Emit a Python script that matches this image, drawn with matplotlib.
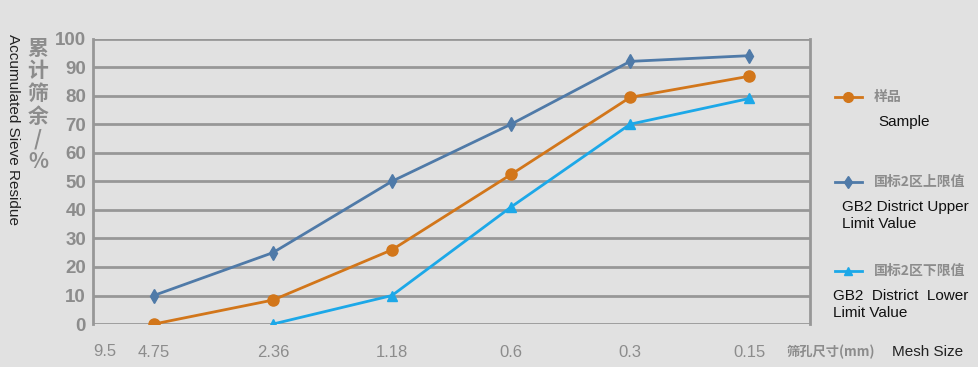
#!/usr/bin/env python3

import numpy as np
import matplotlib
matplotlib.use('Agg')
import matplotlib.pyplot as plt

# mesh sizes (mm) and accumulated sieve residue (%)
mesh = ['4.75', '2.36', '1.18', '0.6', '0.3', '0.15']
sample = [0, 8.4, 26, 52.4, 79.4, 86.8]
upper = [10, 25, 50, 70, 92, 94]
lower_mesh = ['2.36', '1.18', '0.6', '0.3', '0.15']
lower = [0, 10, 41, 70, 79]
yticks = [0, 10, 20, 30, 40, 50, 60, 70, 80, 90, 100]

cn = ['Noto Sans CJK SC', 'DejaVu Sans']

bg = '#e1e1e1'
c_sample = '#d2761a'
c_upper = '#4f7aa8'
c_lower = '#1ca8e8'
grey = '#8c8c8c'

fig = plt.figure(figsize=(9.79, 3.67), dpi=100, facecolor=bg)
ax = fig.add_axes([0.095, 0.117, 0.7324, 0.778], facecolor=bg)

x = np.arange(len(mesh))
xl = np.array([mesh.index(m) for m in lower_mesh])

ax.plot(x, upper, color=c_upper, lw=2, marker='d', ms=7, zorder=3)
ax.plot(x, sample, color=c_sample, lw=2, marker='o', ms=8, zorder=3)
ax.plot(xl, lower, color=c_lower, lw=2, marker='^', ms=7, zorder=3)

ax.set_xlim(-0.51, 5.51)
ax.set_ylim(0, 100)
ax.set_yticks(yticks)
ax.set_yticklabels([str(v) for v in yticks], fontsize=13.5, fontweight='bold',
                   color=grey, family='Liberation Sans')
ax.set_xticks(x)
ax.set_xticklabels(mesh, fontsize=12, color=grey, family='Liberation Sans')
ax.tick_params(axis='x', length=0, pad=15)
ax.tick_params(axis='y', length=0, pad=5)
ax.grid(axis='y', color='#979797', lw=2)
for s in ['top', 'bottom']:
    ax.spines[s].set_visible(False)
for s in ['left', 'right']:
    ax.spines[s].set_color('#979797')
    ax.spines[s].set_linewidth(2)
ax.set_axisbelow(True)

# extra x labels
fig.text(105 / 979, 1 - 352 / 367, '9.5', fontsize=12, color=grey,
         family='Liberation Sans', ha='center', va='center')
fig.text(787 / 979, 1 - 352 / 367, '筛孔尺寸(mm)', fontsize=9.5, color=grey,
         family=cn, ha='left', va='center', fontweight='bold')
fig.text(892 / 979, 1 - 352 / 367, 'Mesh Size', fontsize=11, color='#222222',
         family='Liberation Sans', ha='left', va='center')

# y labels
fig.text(38 / 979, 1 - 105 / 367, '累\n计\n筛\n余\n/\n%', fontsize=15, color=grey,
         family=cn, fontweight='bold', ha='center', va='center', linespacing=1.1)
fig.text(13 / 979, 1 - 130 / 367, 'Accumulated Sieve Residue', fontsize=11,
         color='#222222', family='Liberation Sans', rotation=270,
         ha='center', va='center')

# legend drawn by hand
def legend_entry(y, color, marker, ms, cn_label, en_label, en_x):
    yf = 1 - y / 367
    fig.add_artist(plt.Line2D([835 / 979, 862 / 979], [yf, yf], color=color,
                              lw=2, marker=None))
    fig.add_artist(plt.Line2D([848.5 / 979], [yf], color=color, marker=marker,
                              ms=ms, lw=0))
    fig.text(874 / 979, yf, cn_label, fontsize=10, color=grey, family=cn,
             fontweight='bold', ha='left', va='center')
    fig.text(en_x / 979, 1 - (y + 18) / 367, en_label, fontsize=11,
             color='#111111', family='Liberation Sans', ha='left', va='top',
             linespacing=1.3)

legend_entry(97, c_sample, 'o', 7, '样品', 'Sample', 878)
legend_entry(182, c_upper, 'd', 6, '国标2区上限值', 'GB2 District Upper\nLimit Value', 842)
legend_entry(271, c_lower, '^', 6, '国标2区下限值', 'GB2  District  Lower\nLimit Value', 833)

fig.savefig('out.png', dpi=100, facecolor=bg)
